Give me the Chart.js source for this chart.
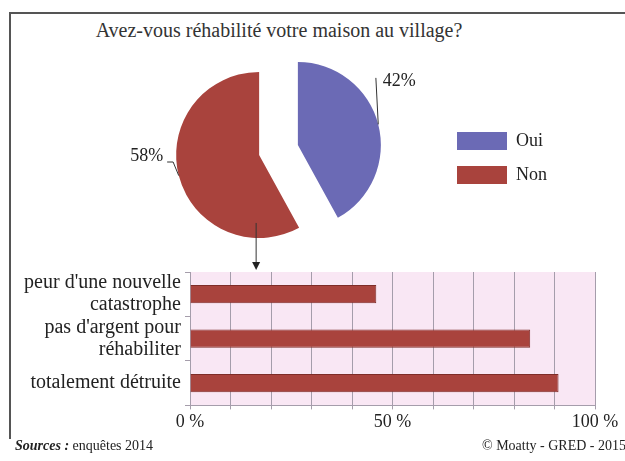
<!DOCTYPE html>
<html lang="fr">
<head>
<meta charset="utf-8">
<title>Réhabilitation des maisons au village</title>
<script src="https://cdn.jsdelivr.net/npm/chart.js@4.4.1/dist/chart.umd.min.js"></script>
<style>
  body { margin: 0; background: #fff; }
  #wrap { position: relative; width: 625px; height: 461px; overflow: hidden; font-family: "Liberation Serif", "Times New Roman", serif; }
  .frame { position: absolute; left: 9px; top: 12px; width: 700px; height: 425px; border-left: 2px solid #555; border-top: 2px solid #555; }
  .title { position: absolute; left: 59px; top: 18px; width: 440px; text-align: center; font-size: 20px; line-height: 24px; color: #333; white-space: nowrap; }
  #pie { position: absolute; left: 0; top: 0; }
  #bars { position: absolute; left: 0; top: 250px; }
  .note { position: absolute; top: 438px; font-size: 14px; line-height: 16px; color: #222; white-space: nowrap; }
</style>
</head>
<body>
<div id="wrap">
  <div class="frame"></div>
  <div class="title">Avez-vous réhabilité votre maison au village?</div>
  <canvas id="pie" width="625" height="272"></canvas>
  <canvas id="bars" width="625" height="185"></canvas>
  <div class="note" style="left:15px"><b><i>Sources :</i></b> enquêtes 2014</div>
  <div class="note" style="left:482px">© Moatty - GRED - 2015</div>
</div>
<script>
const answerLabels = ['Oui', 'Non'];
const answerValues = [42, 58];

const reasonLabels = [
  ["peur d'une nouvelle", 'catastrophe'],
  ["pas d'argent pour", 'réhabiliter'],
  'totalement détruite'
];
const reasonValues = [46, 84, 91];

const blue = '#6b6ab5';
const red = '#a9433d';
const ink = '#222';
const gridColor = '#a59dab';
const serif = '"Liberation Serif", "Times New Roman", serif';
const explode = 20;

Chart.defaults.font.family = serif;

// leader line bends and label anchor, relative to the point on each slice edge
const leaders = [
  { path: [[-2.4, -46.5]], label: [4.6, -43.5], align: 'left' },
  { path: [[-5.6, -13.6], [-11.6, -13.6]], label: [-15.6, -19.6], align: 'right' }
];

// pull each slice away from the centre along its middle angle
const explodeSlices = {
  id: 'explodeSlices',
  afterDatasetsUpdate(chart) {
    chart.getDatasetMeta(0).data.forEach(arc => {
      const mid = (arc.startAngle + arc.endAngle) / 2;
      arc.x += Math.cos(mid) * explode;
      arc.y += Math.sin(mid) * explode;
    });
  }
};

const pieLabels = {
  id: 'pieLabels',
  afterDatasetsDraw(chart) {
    const ctx = chart.ctx;
    const meta = chart.getDatasetMeta(0);
    const values = chart.data.datasets[0].data;
    ctx.save();
    ctx.strokeStyle = '#333';
    ctx.lineWidth = 1;
    ctx.font = '18px ' + serif;
    ctx.textBaseline = 'middle';
    meta.data.forEach((arc, i) => {
      const { x, y, startAngle, endAngle, outerRadius } = arc;
      const mid = (startAngle + endAngle) / 2;
      const px = x + Math.cos(mid) * outerRadius;
      const py = y + Math.sin(mid) * outerRadius;
      const l = leaders[i];
      ctx.beginPath();
      ctx.moveTo(px, py);
      l.path.forEach(p => ctx.lineTo(px + p[0], py + p[1]));
      ctx.stroke();
      ctx.fillStyle = ink;
      ctx.textAlign = l.align;
      ctx.fillText(values[i] + '%', px + l.label[0], py + l.label[1]);

      // arrow from the "Non" slice down to the reasons chart
      if (i === 1) {
        const ax = x - 3;
        const tip = chart.height - 2;
        ctx.beginPath();
        ctx.moveTo(ax, y + 68);
        ctx.lineTo(ax, tip - 6);
        ctx.stroke();
        ctx.beginPath();
        ctx.moveTo(ax - 4, tip - 8);
        ctx.lineTo(ax + 4, tip - 8);
        ctx.lineTo(ax, tip);
        ctx.closePath();
        ctx.fillStyle = '#222';
        ctx.fill();
      }
    });
    ctx.restore();
  }
};

const plotBackground = {
  id: 'plotBackground',
  beforeDraw(chart) {
    const { ctx, chartArea } = chart;
    ctx.save();
    ctx.fillStyle = '#f9e7f4';
    ctx.fillRect(chartArea.left, chartArea.top, chartArea.width, chartArea.height);
    ctx.restore();
  }
};

function drawCharts() {
  new Chart(document.getElementById('pie'), {
    type: 'pie',
    data: {
      labels: answerLabels,
      datasets: [{
        data: answerValues,
        backgroundColor: [blue, red],
        borderWidth: 0
      }]
    },
    options: {
      responsive: false,
      animation: false,
      radius: 83,
      layout: { padding: { left: 116, right: 68, top: 100, bottom: 72 } },
      plugins: {
        legend: {
          position: 'right',
          align: 'end',
          labels: {
            boxWidth: 50,
            boxHeight: 18,
            padding: 16,
            color: ink,
            font: { family: serif, size: 18 }
          }
        },
        tooltip: { enabled: false }
      }
    },
    plugins: [explodeSlices, pieLabels]
  });

  new Chart(document.getElementById('bars'), {
    type: 'bar',
    data: {
      labels: reasonLabels,
      datasets: [{
        data: reasonValues,
        backgroundColor: red,
        borderColor: '#7e2d28',
        borderWidth: 1,
        barPercentage: 0.41,
        categoryPercentage: 1
      }]
    },
    options: {
      indexAxis: 'y',
      responsive: false,
      animation: false,
      layout: { padding: { top: 22, right: 30, bottom: 0, left: 0 } },
      scales: {
        x: {
          min: 0,
          max: 100,
          ticks: {
            stepSize: 10,
            autoSkip: false,
            maxRotation: 0,
            padding: 2,
            color: ink,
            font: { family: serif, size: 18 },
            callback: v => (v % 50 === 0 ? v + ' %' : '')
          },
          grid: { color: gridColor, tickLength: 4 },
          border: { color: gridColor }
        },
        y: {
          ticks: {
            autoSkip: false,
            color: ink,
            padding: 4,
            font: { family: serif, size: 20, lineHeight: 1.1 }
          },
          grid: { drawOnChartArea: false, offset: true, tickLength: 5, color: gridColor },
          border: { color: gridColor },
          afterFit(scale) { scale.width = 190; }
        }
      },
      plugins: {
        legend: { display: false },
        tooltip: { enabled: false }
      }
    },
    plugins: [plotBackground]
  });
}

document.fonts.load('18px "Liberation Serif"').then(drawCharts, drawCharts);
</script>
</body>
</html>
